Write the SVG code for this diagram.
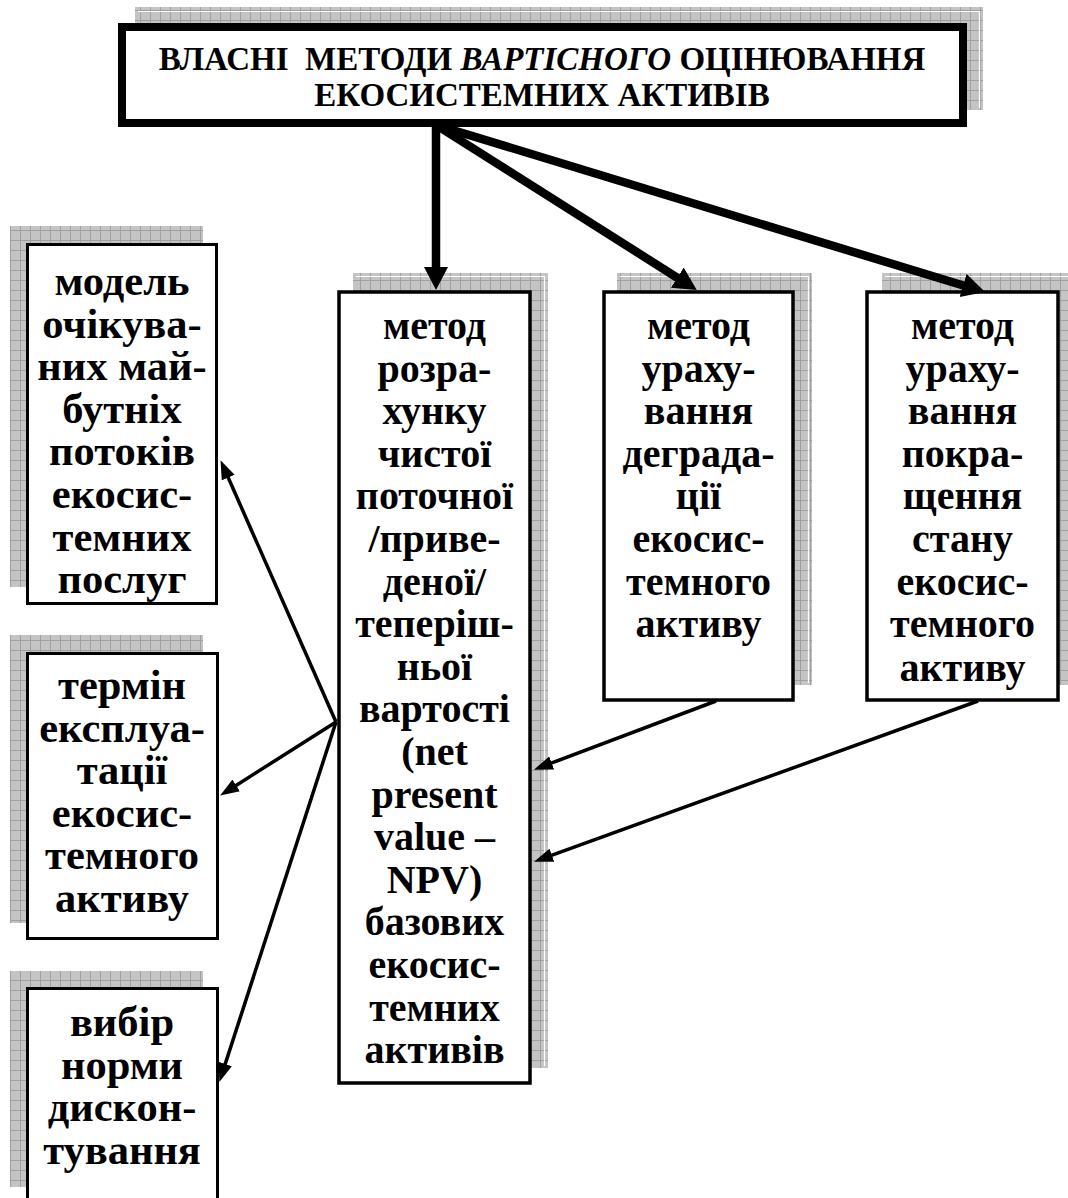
<svg xmlns="http://www.w3.org/2000/svg" width="1068" height="1198" viewBox="0 0 1068 1198">
<style>
.sh{fill:url(#grid)}
.hl{stroke:#ffffff;stroke-width:1.2;fill:none}
.box{fill:#ffffff;stroke:#000000;stroke-width:3.5}
.lbox{fill:#ffffff;stroke:#000000;stroke-width:3}
.t{font-family:"Liberation Serif","Times New Roman",serif;font-weight:bold;font-size:40px;text-anchor:middle;fill:#000000}
.tl{font-family:"Liberation Serif","Times New Roman",serif;font-weight:bold;font-size:42.5px;text-anchor:middle;fill:#000000}
.title{font-family:"Liberation Serif","Times New Roman",serif;font-weight:bold;font-size:33px;text-anchor:middle;fill:#000000;white-space:pre}
.thick{stroke:#000000;stroke-width:8.5;fill:none;marker-end:url(#ahBig)}
.thin{stroke:#000000;stroke-width:3.5;fill:none;marker-end:url(#ahSmall)}
</style>
<defs>
<pattern id="grid" width="10" height="10" patternUnits="userSpaceOnUse">
<rect width="10" height="10" fill="#c4c4c4"/>
<path d="M0 0.5H10M0.5 0V10" stroke="#a0a0a0" stroke-width="1"/>
</pattern>
<marker id="ahBig" markerUnits="userSpaceOnUse" markerWidth="26" markerHeight="26" refX="2" refY="12" orient="auto" viewBox="0 0 26 26">
<path d="M0,0 L23,12 L0,24 Z" fill="#000000"/>
</marker>
<marker id="ahSmall" markerUnits="userSpaceOnUse" markerWidth="20" markerHeight="16" refX="2" refY="7" orient="auto" viewBox="0 0 20 16">
<path d="M0,0 L19,7 L0,14 Z" fill="#000000"/>
</marker>
</defs>
<rect width="1068" height="1198" fill="#ffffff"/>

<g id="title-node">
<rect class="sh" x="135" y="7" width="848" height="103"/>
<path class="hl" d="M138 11.5H979.5V108"/>
<rect x="122" y="27" width="841" height="96" fill="#ffffff" stroke="#000000" stroke-width="8"/>
<text class="title" x="542" y="70">ВЛАСНІ  МЕТОДИ <tspan font-style="italic">ВАРТІСНОГО</tspan> ОЦІНЮВАННЯ</text>
<text class="title" x="542" y="106">ЕКОСИСТЕМНИХ АКТИВІВ</text>
</g>

<g id="node-npv">
<rect class="sh" x="353" y="273" width="195" height="795"/>
<path class="hl" d="M356 276.5H544.5V1066"/>
<rect class="box" x="339" y="292" width="191" height="791"/>
<text class="t" x="434.5" y="339">метод</text>
<text class="t" x="434.5" y="381.6">розра-</text>
<text class="t" x="434.5" y="424.2">хунку</text>
<text class="t" x="434.5" y="466.8">чистої</text>
<text class="t" x="434.5" y="509.4">поточної</text>
<text class="t" x="434.5" y="552">/приве-</text>
<text class="t" x="434.5" y="594.6">деної/</text>
<text class="t" x="434.5" y="637.2">теперіш-</text>
<text class="t" x="434.5" y="679.8">ньої</text>
<text class="t" x="434.5" y="722.4">вартості</text>
<text class="t" x="434.5" y="765">(net</text>
<text class="t" x="434.5" y="807.6">present</text>
<text class="t" x="434.5" y="850.2">value –</text>
<text class="t" x="434.5" y="892.8">NPV)</text>
<text class="t" x="434.5" y="935.4">базових</text>
<text class="t" x="434.5" y="978">екосис-</text>
<text class="t" x="434.5" y="1020.6">темних</text>
<text class="t" x="434.5" y="1063.2">активів</text>
</g>

<g id="node-degradation">
<rect class="sh" x="617" y="273" width="195" height="412"/>
<path class="hl" d="M620 276.5H808.5V683"/>
<rect class="box" x="604" y="292" width="189" height="408"/>
<text class="t" x="698.5" y="339">метод</text>
<text class="t" x="698.5" y="381.6">ураху-</text>
<text class="t" x="698.5" y="424.2">вання</text>
<text class="t" x="698.5" y="466.8">деграда-</text>
<text class="t" x="698.5" y="509.4">ції</text>
<text class="t" x="698.5" y="552">екосис-</text>
<text class="t" x="698.5" y="594.6">темного</text>
<text class="t" x="698.5" y="637.2">активу</text>
</g>

<g id="node-improvement">
<rect class="sh" x="882" y="273" width="195" height="412"/>
<path class="hl" d="M885 276.5H1073.5"/>
<rect class="box" x="867" y="292" width="191" height="408"/>
<text class="t" x="962.5" y="339">метод</text>
<text class="t" x="962.5" y="381.6">ураху-</text>
<text class="t" x="962.5" y="424.2">вання</text>
<text class="t" x="962.5" y="466.8">покра-</text>
<text class="t" x="962.5" y="509.4">щення</text>
<text class="t" x="962.5" y="552">стану</text>
<text class="t" x="962.5" y="594.6">екосис-</text>
<text class="t" x="962.5" y="637.2">темного</text>
<text class="t" x="962.5" y="681">активу</text>
</g>

<g id="node-model">
<rect class="sh" x="10" y="226" width="193" height="361"/>
<rect class="lbox" x="27.5" y="244.5" width="189" height="359"/>
<text class="tl" x="122" y="295">модель</text>
<text class="tl" x="122" y="337.6">очікува-</text>
<text class="tl" x="122" y="380.2">них май-</text>
<text class="tl" x="122" y="422.8">бутніх</text>
<text class="tl" x="122" y="465.4">потоків</text>
<text class="tl" x="122" y="508">екосис-</text>
<text class="tl" x="122" y="550.6">темних</text>
<text class="tl" x="122" y="593.2">послуг</text>
</g>

<g id="node-term">
<rect class="sh" x="10" y="635" width="193" height="288"/>
<rect class="lbox" x="27.5" y="653.5" width="190" height="285"/>
<text class="tl" x="122" y="699">термін</text>
<text class="tl" x="122" y="741.6">експлуа-</text>
<text class="tl" x="122" y="784.2">тації</text>
<text class="tl" x="122" y="826.8">екосис-</text>
<text class="tl" x="122" y="869.4">темного</text>
<text class="tl" x="122" y="912">активу</text>
</g>

<g id="node-discount">
<rect class="sh" x="10" y="971" width="193" height="216"/>
<rect class="lbox" x="27.5" y="988.5" width="190" height="240"/>
<text class="tl" x="122" y="1036">вибір</text>
<text class="tl" x="122" y="1078.6">норми</text>
<text class="tl" x="122" y="1121.2">дискон-</text>
<text class="tl" x="122" y="1163.8">тування</text>
</g>

<g id="connectors">
<path class="thick" d="M436 123V269"/>
<path class="thick" d="M436 125L679 278.8"/>
<path class="thick" d="M436 125L965 286"/>
<path class="thin" d="M336 722L227.4 475.7"/>
<path class="thin" d="M336 722L234.5 786.4"/>
<path class="thin" d="M336 722L224.6 1065.9"/>
<path class="thin" d="M716 701L549.8 763.7"/>
<path class="thin" d="M978 701L550 855.9"/>
</g>
</svg>
